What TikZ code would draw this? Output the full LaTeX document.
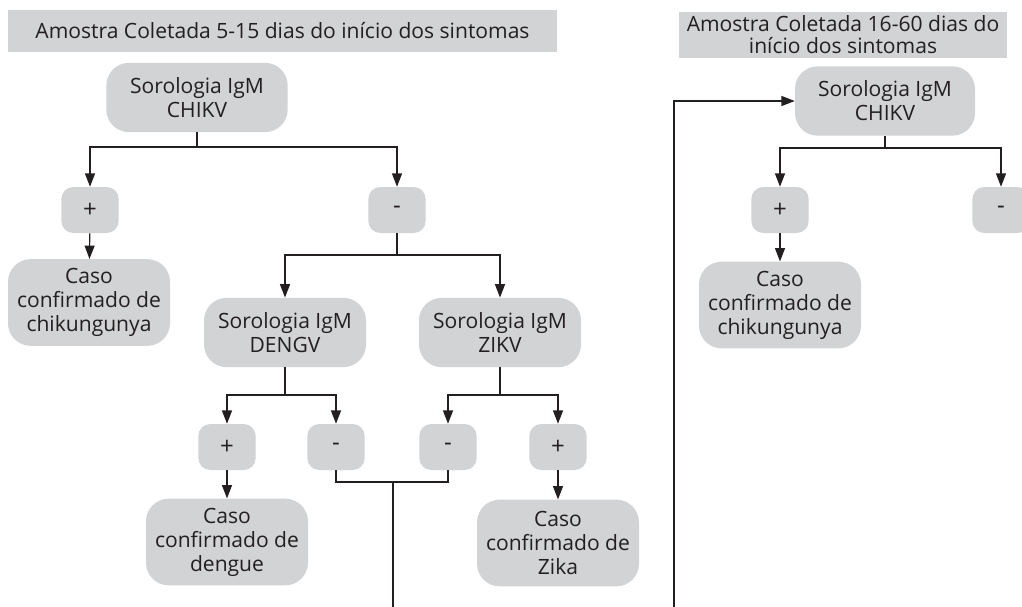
\documentclass[tikz,border=0pt]{standalone}
\usepackage{fontspec}
\setmainfont{Open Sans}
\usetikzlibrary{arrows.meta}

\definecolor{boxgray}{HTML}{D1D3D4}
\definecolor{ink}{HTML}{231F20}

\begin{document}
\begin{tikzpicture}[x=0.75pt, y=-0.75pt,
    every node/.style={font=\fontsize{15.8}{18}\selectfont, text=ink, align=center, inner sep=0pt},
    banner/.style={fill=boxgray},
    test/.style={fill=boxgray, rounded corners=17pt, minimum height=52pt},
    caso/.style={fill=boxgray, rounded corners=17pt, minimum width=121.5pt, minimum height=65pt},
    sign/.style={fill=boxgray, rounded corners=9pt, minimum width=43pt, minimum height=34.5pt, font=\fontsize{18}{18}\selectfont},
    link/.style={draw=ink, line width=0.9pt},
    arr/.style={link, -{Triangle[length=10pt, width=7.5pt]}}]
      \useasboundingbox (0,0) rectangle (1022,607);
      \clip (0,0) rectangle (1022,607);

      % 5-15 dias
      \node[banner, minimum width=412pt, minimum height=31.5pt] (titleA) at (282.5,31) {Amostra Coletada 5-15 dias do início dos sintomas};
      \node[test, minimum width=136pt] (chikA) at (197,97.5) {Sorologia IgM\\CHIKV};
      \node[sign] (posA) at (90,210) {+};
      \node[sign] (negA) at (397,210) {-};
      \node[caso] (casoC) at (89,302.5) {Caso\\confirmado de\\chikungunya};
      \node[test, minimum width=121.5pt] (dengA) at (285,332.5) {Sorologia IgM\\DENGV};
      \node[test, minimum width=121.5pt] (zikA) at (500,332.5) {Sorologia IgM\\ZIKV};
      \node[sign] (posD) at (227,447) {+};
      \node[sign] (negD) at (336,447) {-};
      \node[sign] (negZ) at (448,447) {-};
      \node[sign] (posZ) at (558,447) {+};
      \node[caso] (casoD) at (227,542) {Caso\\confirmado de\\dengue};
      \node[caso] (casoZ) at (558,543) {Caso\\confirmado de\\Zika};

      \coordinate (busA) at (197,147);
      \draw[link] (chikA) -- (busA);
      \draw[arr] (busA) -| (posA);
      \draw[arr] (busA) -| (negA);
      \draw[arr] (posA) -- (casoC);

      \coordinate (busN) at (397,255);
      \draw[link] (negA) -- (busN);
      \draw[arr] (busN) -| (dengA);
      \draw[arr] (busN) -| (zikA);

      \coordinate (busD) at (285,395);
      \draw[link] (dengA) -- (busD);
      \draw[arr] (busD) -| (posD);
      \draw[arr] (busD) -| (negD);
      \draw[arr] (posD) -- (casoD);

      \coordinate (busZ) at (500,395);
      \draw[link] (zikA) -- (busZ);
      \draw[arr] (busZ) -| (negZ);
      \draw[arr] (busZ) -| (posZ);
      \draw[arr] (posZ) -- (casoZ);

      % both negatives go on
      \coordinate (joinN) at (393,482);
      \coordinate (outN) at (393,607);
      \draw[link] (negD) |- (joinN) -| (negZ);
      \draw[link] (joinN) -- (outN);

      % 16-60 dias
      \node[banner, minimum width=246pt, minimum height=34.5pt, font=\fontsize{15.8}{16.5}\selectfont] (titleB) at (843,35) {Amostra Coletada 16-60 dias do\\início dos sintomas};
      \node[test, minimum width=135pt] (chikB) at (885,101) {Sorologia IgM\\CHIKV};
      \node[sign] (posB) at (780,210) {+};
      \node[sign] (negB) at (1001,210) {-};
      \node[caso] (casoB) at (780,305) {Caso\\confirmado de\\chikungunya};

      \coordinate (busB) at (885,148);
      \draw[link] (chikB) -- (busB);
      \draw[arr] (busB) -| (posB);
      \draw[arr] (busB) -| (negB);
      \draw[arr] (posB) -- (casoB);

      \coordinate (loopB) at (674,607);
      \draw[arr] (loopB) |- (chikB);
    \end{tikzpicture}
\end{document}
